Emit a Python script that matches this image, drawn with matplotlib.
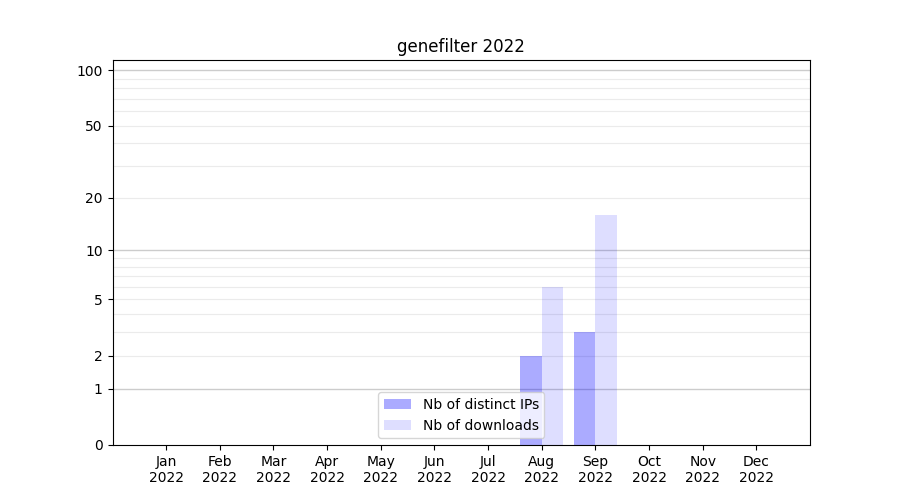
import numpy as np
import matplotlib
matplotlib.use("Agg")
import matplotlib.pyplot as plt
from matplotlib.ticker import FixedLocator, FixedFormatter

months = ["Jan\n2022", "Feb\n2022", "Mar\n2022", "Apr\n2022", "May\n2022", "Jun\n2022",
          "Jul\n2022", "Aug\n2022", "Sep\n2022", "Oct\n2022", "Nov\n2022", "Dec\n2022"]
distinct_ips = [0, 0, 0, 0, 0, 0, 0, 2, 3, 0, 0, 0]
downloads = [0, 0, 0, 0, 0, 0, 0, 6, 16, 0, 0, 0]
ytick_values = [0, 1, 2, 5, 10, 20, 50, 100]

fig, ax = plt.subplots(figsize=(9, 5), dpi=100)

ax.set_yscale('function', functions=(lambda y: np.log10(1 + np.clip(y, 0, None)),
                                     lambda t: 10 ** t - 1))

x = np.arange(1, len(months) + 1)
w = 0.4
ax.bar(x - w / 2, distinct_ips, width=w, color='blue', alpha=0.33, label='Nb of distinct IPs')
ax.bar(x + w / 2, downloads, width=w, color='blue', alpha=0.13, label='Nb of downloads')

ax.set_xlim(0, 13)
ax.set_ylim(0, 113.5)
ax.set_xticks(x)
ax.set_xticklabels(months)

ax.yaxis.set_major_locator(FixedLocator(ytick_values))
ax.yaxis.set_major_formatter(FixedFormatter([str(v) for v in ytick_values]))
minor = [v for v in list(range(2, 10)) + list(range(20, 100, 10))]
ax.yaxis.set_minor_locator(FixedLocator(minor))
ax.tick_params(axis='y', which='minor', length=0)

for v in [1, 10, 100]:
    ax.axhline(v, color='#cccccc', linewidth=1, zorder=0)
for v in minor:
    ax.axhline(v, color='#ebebeb', linewidth=0.8, zorder=0)

ax.set_title('genefilter 2022')
ax.legend(loc='lower center')

fig.savefig('out.png', dpi=100)
